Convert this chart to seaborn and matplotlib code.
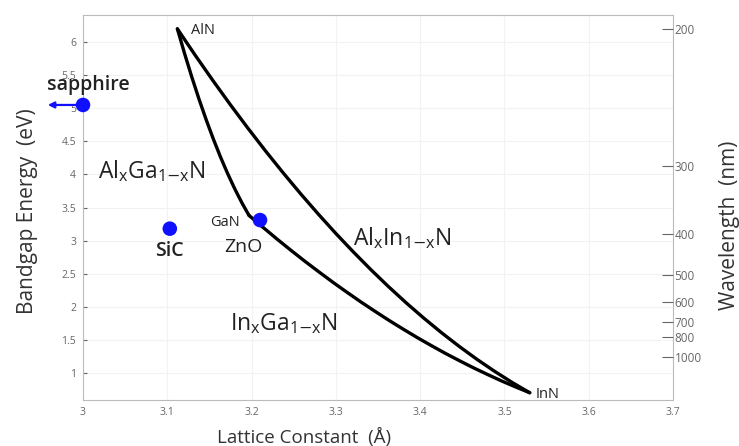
import numpy as np
import pandas as pd
import seaborn as sns
import matplotlib.pyplot as plt

sns.set_style("white")
plt.rcParams['font.family'] = ['Open Sans', 'DejaVu Sans']
plt.rcParams['mathtext.default'] = 'regular'

# lattice constant (A) / bandgap (eV)
algan_a = [3.1120, 3.1163, 3.1205, 3.1248, 3.1290, 3.1333, 3.1375, 3.1418, 3.1460, 3.1503, 3.1545,
           3.1588, 3.1630, 3.1673, 3.1715, 3.1758, 3.1800, 3.1843, 3.1885, 3.1928, 3.1970]
algan_e = [6.200, 6.012, 5.828, 5.650, 5.476, 5.308, 5.144, 4.986, 4.832, 4.684, 4.540,
           4.402, 4.268, 4.140, 4.016, 3.898, 3.784, 3.676, 3.572, 3.474, 3.380]
ingan_a = [3.1970, 3.2137, 3.2303, 3.2470, 3.2636, 3.2803, 3.2969, 3.3136, 3.3302, 3.3469, 3.3635,
           3.3802, 3.3968, 3.4135, 3.4301, 3.4468, 3.4634, 3.4801, 3.4967, 3.5134, 3.5300]
ingan_e = [3.380, 3.199, 3.022, 2.850, 2.684, 2.523, 2.366, 2.215, 2.068, 1.927, 1.790,
           1.659, 1.532, 1.411, 1.294, 1.183, 1.076, 0.975, 0.878, 0.787, 0.700]
alinn_a = [3.1120, 3.1329, 3.1538, 3.1747, 3.1956, 3.2165, 3.2374, 3.2583, 3.2792, 3.3001, 3.3210,
           3.3419, 3.3628, 3.3837, 3.4046, 3.4255, 3.4464, 3.4673, 3.4882, 3.5091, 3.5300]
alinn_e = [6.200, 5.806, 5.425, 5.056, 4.700, 4.356, 4.025, 3.706, 3.400, 3.106, 2.825,
           2.556, 2.300, 2.056, 1.825, 1.606, 1.400, 1.206, 1.025, 0.856, 0.700]

# substrates
sub_names = ["sapphire", "SiC", "ZnO"]
sub_a = [3.0, 3.103, 3.21]
sub_e = [5.05, 3.18, 3.31]

x_ticks = [3.0, 3.1, 3.2, 3.3, 3.4, 3.5, 3.6, 3.7]
x_labels = ["3", "3.1", "3.2", "3.3", "3.4", "3.5", "3.6", "3.7"]
y_ticks = [1, 1.5, 2, 2.5, 3, 3.5, 4, 4.5, 5, 5.5, 6]
y_labels = ["1", "1.5", "2", "2.5", "3", "3.5", "4", "4.5", "5", "5.5", "6"]
wl_ticks = [200, 300, 400, 500, 600, 700, 800, 1000]

curves = pd.concat([
    pd.DataFrame({"a": algan_a, "E": algan_e, "alloy": "AlGaN"}),
    pd.DataFrame({"a": ingan_a, "E": ingan_e, "alloy": "InGaN"}),
    pd.DataFrame({"a": alinn_a, "E": alinn_e, "alloy": "AlInN"}),
])
subs = pd.DataFrame({"a": sub_a, "E": sub_e, "name": sub_names})

fig = plt.figure(figsize=(7.39, 4.46), dpi=100)
ax = fig.add_axes([0.1123, 0.1031, 0.7984, 0.8633])

sns.lineplot(data=curves, x="a", y="E", units="alloy", estimator=None, sort=False,
             color="black", lw=2.4, solid_joinstyle="round", ax=ax)
sns.scatterplot(data=subs, x="a", y="E", color="#1010ff", s=110, edgecolor="none",
                ax=ax, zorder=5, clip_on=False)
ax.annotate("", xy=(2.955, sub_e[0]), xytext=(3.0, sub_e[0]),
            arrowprops=dict(arrowstyle="-|>", color="#1010ff", lw=1.6, mutation_scale=9),
            annotation_clip=False)

ax.set_xlim(3.0, 3.7)
ax.set_ylim(0.59, 6.41)
ax.set_xticks(x_ticks)
ax.set_xticklabels(x_labels)
ax.set_yticks(y_ticks)
ax.set_yticklabels(y_labels)
ax.tick_params(direction="in", length=3, labelsize=7.5, colors="#666666", pad=5)
ax.grid(True, color="#f2f2f2", lw=0.8)
for s in ax.spines.values():
    s.set_color("#bbbbbb")

ax.set_xlabel("Lattice Constant  (Å)", fontsize=13.5, color="#333333")
ax.xaxis.set_label_coords(0.375, -0.072)
ax.set_ylabel("Bandgap Energy  (eV)", fontsize=15, color="#333333")
ax.yaxis.set_label_coords(-0.077, 0.49)

ax2 = ax.twinx()
ax2.set_ylim(ax.get_ylim())
ax2.set_yticks([1240.0 / w for w in wl_ticks])
ax2.set_yticklabels([str(w) for w in wl_ticks])
ax2.tick_params(direction="in", length=8, labelsize=8.5, colors="#666666", pad=1)
for s in ax2.spines.values():
    s.set_visible(False)
ax2.set_ylabel("Wavelength  (nm)", fontsize=15, color="#333333")
ax2.yaxis.set_label_coords(1.078, 0.455)

txt = dict(color="#222222")
ax.text(3.128, 6.17, "AlN", fontsize=10.5, va="center", **txt)
ax.text(3.537, 0.67, "InN", fontsize=10.5, va="center", **txt)
ax.text(3.169, 3.27, "GaN", fontsize=10.5, va="center", ha="center", **txt)
ax.text(3.168, 2.90, "ZnO", fontsize=14, va="center", **txt)
ax.text(sub_a[1], 2.85, "SiC", fontsize=14, va="center", ha="center",
        fontweight="semibold", **txt)
ax.text(3.006, 5.35, "sapphire", fontsize=14, va="center", ha="center",
        fontweight="semibold", **txt)
ax.text(3.018, 4.05, r"Al$_x$Ga$_{1\mathrm{-}x}$N", fontsize=16.5, va="center", **txt)
ax.text(3.175, 1.75, r"In$_x$Ga$_{1\mathrm{-}x}$N", fontsize=16.5, va="center", **txt)
ax.text(3.320, 3.04, r"Al$_x$In$_{1\mathrm{-}x}$N", fontsize=16.5, va="center", **txt)

fig.savefig("out.png", dpi=100)
